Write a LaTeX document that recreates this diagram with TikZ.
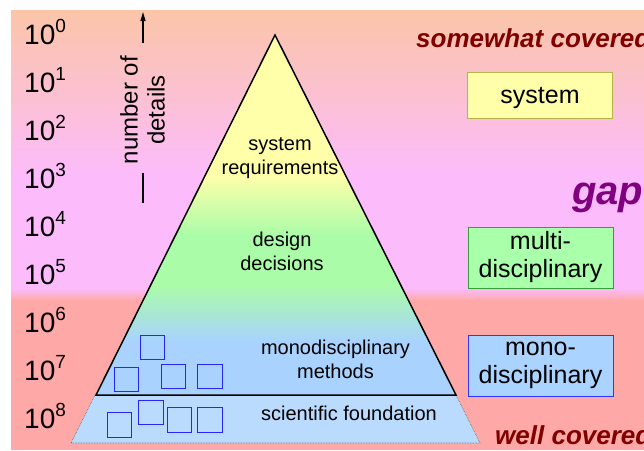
\documentclass[tikz,border=0pt]{standalone}
\usepackage{fontspec}
\setmainfont{Liberation Sans}
\usetikzlibrary{arrows.meta}
\definecolor{peach}{HTML}{FBC5A8}
\definecolor{pinkm}{HTML}{FCBCFB}
\definecolor{salmon}{HTML}{FFA8A8}
\definecolor{triyel}{HTML}{FFFFAA}
\definecolor{trigrn}{HTML}{AAFCA8}
\definecolor{triblu}{HTML}{A9D3FE}
\definecolor{fndblu}{HTML}{BADBFE}
\definecolor{sqblue}{HTML}{2626FF}
\definecolor{darkred}{HTML}{800000}
\definecolor{gapcol}{HTML}{800080}
\definecolor{sysfill}{HTML}{FFFFAA}
\definecolor{sysdraw}{HTML}{B5B54A}
\definecolor{multifill}{HTML}{AAFFAA}
\definecolor{multidraw}{HTML}{33A033}
\definecolor{monofill}{HTML}{AAD4FF}
\definecolor{monodraw}{HTML}{3333FF}
\newcommand\supnum[1]{\raisebox{11.5pt}{\fontsize{19}{19}\selectfont #1}}
\begin{document}
\begin{tikzpicture}[x=1pt,y=-1pt,
  lvl/.style={font=\fontsize{20}{24}\selectfont, align=center, inner sep=0pt},
  expo/.style={font=\fontsize{28}{30}\selectfont, anchor=base west, inner sep=0pt},
  catbox/.style={line width=1pt, minimum width=145pt, inner sep=0pt,
     align=center, font=\fontsize{25}{28}\selectfont},
  sq/.style={draw=sqblue, line width=1pt},
  cover/.style={font=\fontsize{26}{28}\selectfont\bfseries\itshape, text=darkred, anchor=base west, inner sep=0pt}
]
\useasboundingbox (0,0) rectangle (644,450);
% background
\fill[top color=peach, bottom color=pinkm] (11,10) rectangle (644,175);
\fill[pinkm] (11,174) rectangle (644,289);
\fill[top color=pinkm, bottom color=salmon] (11,288) rectangle (644,301);
\fill[salmon] (11,300) rectangle (644,450);
% foundation trapezoid
\filldraw[fill=fndblu, draw=gray!70!black, densely dotted, line width=0.6pt]
  (95,395) -- (456,395) -- (480,443) -- (71,443) -- cycle;
% pyramid
\begin{scope}
\clip (275,35) -- (456,395) -- (96,395) -- cycle;
\fill[triyel] (90,30) rectangle (460,176);
\fill[top color=triyel, bottom color=trigrn] (90,175) rectangle (460,236);
\fill[trigrn] (90,235) rectangle (460,286);
\fill[top color=trigrn, bottom color=triblu] (90,285) rectangle (460,341);
\fill[triblu] (90,340) rectangle (460,400);
\end{scope}
\draw[line width=1.5pt, line join=miter] (275,35) -- (456,395) -- (96,395) -- cycle;
% squares
\draw[sq] (140,335) rectangle (164,359);
\draw[sq] (114,367) rectangle (138,391);
\draw[sq] (161,364) rectangle (185,388);
\draw[sq] (197,364) rectangle (222,388);
\draw[sq] (107,412) rectangle (131,437);
\draw[sq] (138,400) rectangle (163,424);
\draw[sq] (167,407) rectangle (191,432);
\draw[sq] (197,407) rectangle (222,432);
% level texts
\node[lvl] (sysreq) at (280,158) {system\\requirements};
\node[lvl] (design) at (282,251) {design\\decisions};
\node[lvl] (monometh) at (335.5,359) {monodisciplinary\\methods};
\node[lvl, anchor=base] (scifound) at (349,420) {scientific foundation};
% exponents
\node[expo] (e0) at (24,44) {10\supnum{0}};
\node[expo] (e1) at (24,92) {10\supnum{1}};
\node[expo] (e2) at (24,140) {10\supnum{2}};
\node[expo] (e3) at (24,188) {10\supnum{3}};
\node[expo] (e4) at (24,236) {10\supnum{4}};
\node[expo] (e5) at (24,284) {10\supnum{5}};
\node[expo] (e6) at (24,332) {10\supnum{6}};
\node[expo] (e7) at (24,380) {10\supnum{7}};
\node[expo] (e8) at (24,428) {10\supnum{8}};
% axis label and arrow
\node[rotate=90, align=center, inner sep=0pt, font=\fontsize{24}{27}\selectfont] (nod) at (142.5,110) {number of\\details};
\coordinate (arrtip) at (143,12);
\coordinate (arrstart) at (143,43);
\coordinate (lowtop) at (143,173);
\coordinate (lowbot) at (143,203);
\draw[line width=1.2pt, -{Triangle[length=9pt,width=5pt]}] (arrstart) -- (arrtip);
\draw[line width=1.2pt] (lowbot) -- (lowtop);
% category boxes
\node[catbox, draw=sysdraw, fill=sysfill, minimum height=46pt, text depth=0pt] (sys) at (540,95) {system};
\node[catbox, draw=multidraw, fill=multifill, minimum height=61pt] (multi) at (540.5,257.5) {multi-\\disciplinary};
\node[catbox, draw=monodraw, fill=monofill, minimum height=61pt] (monobox) at (540.5,365.5) {mono-\\disciplinary};
% coverage labels
\node[cover] (somewhat) at (416,47) {somewhat covered};
\node[cover] (well) at (495,444) {well covered};
\node[font=\fontsize{40}{42}\selectfont\bfseries\itshape, text=gapcol, anchor=base west, inner sep=0pt] (gap) at (572,204) {gap};
\end{tikzpicture}
\end{document}
